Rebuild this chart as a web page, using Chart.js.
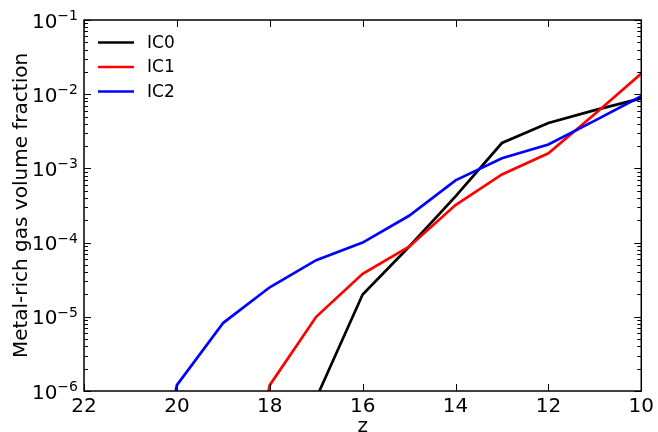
<!DOCTYPE html>
<html>
<head>
<meta charset="utf-8">
<script src="https://cdn.jsdelivr.net/npm/chart.js@4"></script>
<style>
  html, body { margin: 0; padding: 0; background: #fff; }
  #wrap { width: 658px; height: 432px; }
</style>
</head>
<body>
<div id="wrap"><canvas id="chart" width="658" height="432"></canvas></div>
<script>
// redshift on x, volume fraction on y (log)
const redshifts = [22, 21, 20, 19, 18, 17, 16, 15, 14, 13, 12, 11, 10];
const ic0 = [null, null, null, null, null, 8e-7, 2.0e-5, 8.8e-5, 4.2e-4, 2.2e-3, 4.1e-3, 6.1e-3, 8.8e-3];
const ic1 = [null, null, null, 1e-9, 1.2e-6, 1.0e-5, 3.8e-5, 8.8e-5, 3.2e-4, 8.3e-4, 1.6e-3, 5.4e-3, 1.9e-2];
const ic2 = [null, 1e-9, 1.2e-6, 8.3e-6, 2.5e-5, 5.8e-5, 1.0e-4, 2.3e-4, 6.9e-4, 1.37e-3, 2.1e-3, 4.4e-3, 9.4e-3];
const seriesNames = ['IC0', 'IC1', 'IC2'];
const seriesColors = ['#000000', '#ff0000', '#0000ff'];
const xTicks = [22, 20, 18, 16, 14, 12, 10];
const yDecades = [-6, -5, -4, -3, -2, -1];

const FONT = 'DejaVu Sans';

const datasets = [ic0, ic1, ic2].map((vals, i) => ({
  label: seriesNames[i],
  data: redshifts.map((z, j) => ({ x: z, y: vals[j] })),
  borderColor: seriesColors[i],
  backgroundColor: seriesColors[i],
  borderWidth: 2.7,
  pointRadius: 0,
  fill: false,
  tension: 0,
  clip: 0,
  order: 2 - i   // later series drawn on top, like matplotlib
}));

// inward ticks, frame, 10^n labels and legend
const axesDecor = {
  id: 'axesDecor',
  afterDraw(chart) {
    const ctx = chart.ctx, a = chart.chartArea;
    const xs = chart.scales.x, ys = chart.scales.y;
    ctx.save();
    ctx.strokeStyle = '#000';
    ctx.lineWidth = 1;

    // y ticks (major + minor), both sides
    yDecades.forEach(d => {
      for (let k = 1; k < 10; k++) {
        if (d === -1 && k > 1) break;
        const y = Math.round(ys.getPixelForValue(k * Math.pow(10, d))) + 0.5;
        const len = k === 1 ? 7 : 4;
        ctx.beginPath();
        ctx.moveTo(a.left, y); ctx.lineTo(a.left + len, y);
        ctx.moveTo(a.right, y); ctx.lineTo(a.right - len, y);
        ctx.stroke();
      }
    });
    // x ticks top and bottom
    xTicks.forEach(z => {
      const x = Math.round(xs.getPixelForValue(z)) + 0.5;
      ctx.beginPath();
      ctx.moveTo(x, a.bottom); ctx.lineTo(x, a.bottom - 7);
      ctx.moveTo(x, a.top); ctx.lineTo(x, a.top + 7);
      ctx.stroke();
    });

    // frame
    ctx.lineWidth = 1.5;
    ctx.strokeRect(a.left, a.top, a.right - a.left, a.bottom - a.top);

    // y tick labels as 10^n
    ctx.fillStyle = '#000';
    ctx.textBaseline = 'alphabetic';
    yDecades.forEach(d => {
      const y = ys.getPixelForValue(Math.pow(10, d));
      const expo = '\u2212' + Math.abs(d);
      ctx.font = '14px "' + FONT + '"';
      const ew = ctx.measureText(expo).width;
      ctx.textAlign = 'left';
      const ex = a.left - 6 - ew;
      ctx.fillText(expo, ex, y + 0);
      ctx.font = '20px "' + FONT + '"';
      ctx.textAlign = 'right';
      ctx.fillText('10', ex, y + 7.5);
    });

    // legend
    ctx.textAlign = 'left';
    ctx.textBaseline = 'middle';
    ctx.font = '17px "' + FONT + '"';
    chart.data.datasets.forEach((ds, i) => {
      const y = a.top + 22.5 + i * 24.5;
      ctx.strokeStyle = ds.borderColor;
      ctx.lineWidth = 2.7;
      ctx.beginPath();
      ctx.moveTo(a.left + 14, y); ctx.lineTo(a.left + 50, y);
      ctx.stroke();
      ctx.fillStyle = '#000';
      ctx.fillText(ds.label, a.left + 63, y + 1);
    });
    ctx.restore();
  }
};

new Chart(document.getElementById('chart'), {
  type: 'line',
  data: { datasets },
  options: {
    responsive: false,
    animation: false,
    layout: { padding: { top: 20, right: 15, left: 0, bottom: 0 } },
    plugins: { legend: { display: false }, tooltip: { enabled: false } },
    scales: {
      x: {
        type: 'linear',
        reverse: true,
        min: 10,
        max: 22,
        grid: { display: false, drawTicks: false },
        border: { display: false },
        afterBuildTicks: s => { s.ticks = xTicks.map(v => ({ value: v })); },
        afterFit: s => { s.height = 41; },
        ticks: {
          autoSkip: false,
          maxRotation: 0,
          padding: 4,
          color: '#000',
          font: { family: FONT, size: 20 }
        },
        title: {
          display: true,
          text: 'z',
          color: '#000',
          padding: { top: 0, bottom: -3 },
          font: { family: FONT, size: 20, lineHeight: 0.8 }
        }
      },
      y: {
        type: 'logarithmic',
        min: 1e-6,
        max: 1e-1,
        grid: { display: false, drawTicks: false },
        border: { display: false },
        afterFit: s => { s.width = 84; },
        ticks: { display: false },
        title: {
          display: true,
          text: 'Metal-rich gas volume fraction',
          color: '#000',
          padding: { top: 10, bottom: 0 },
          font: { family: FONT, size: 20 }
        }
      }
    }
  },
  plugins: [axesDecor]
});
</script>
</body>
</html>
